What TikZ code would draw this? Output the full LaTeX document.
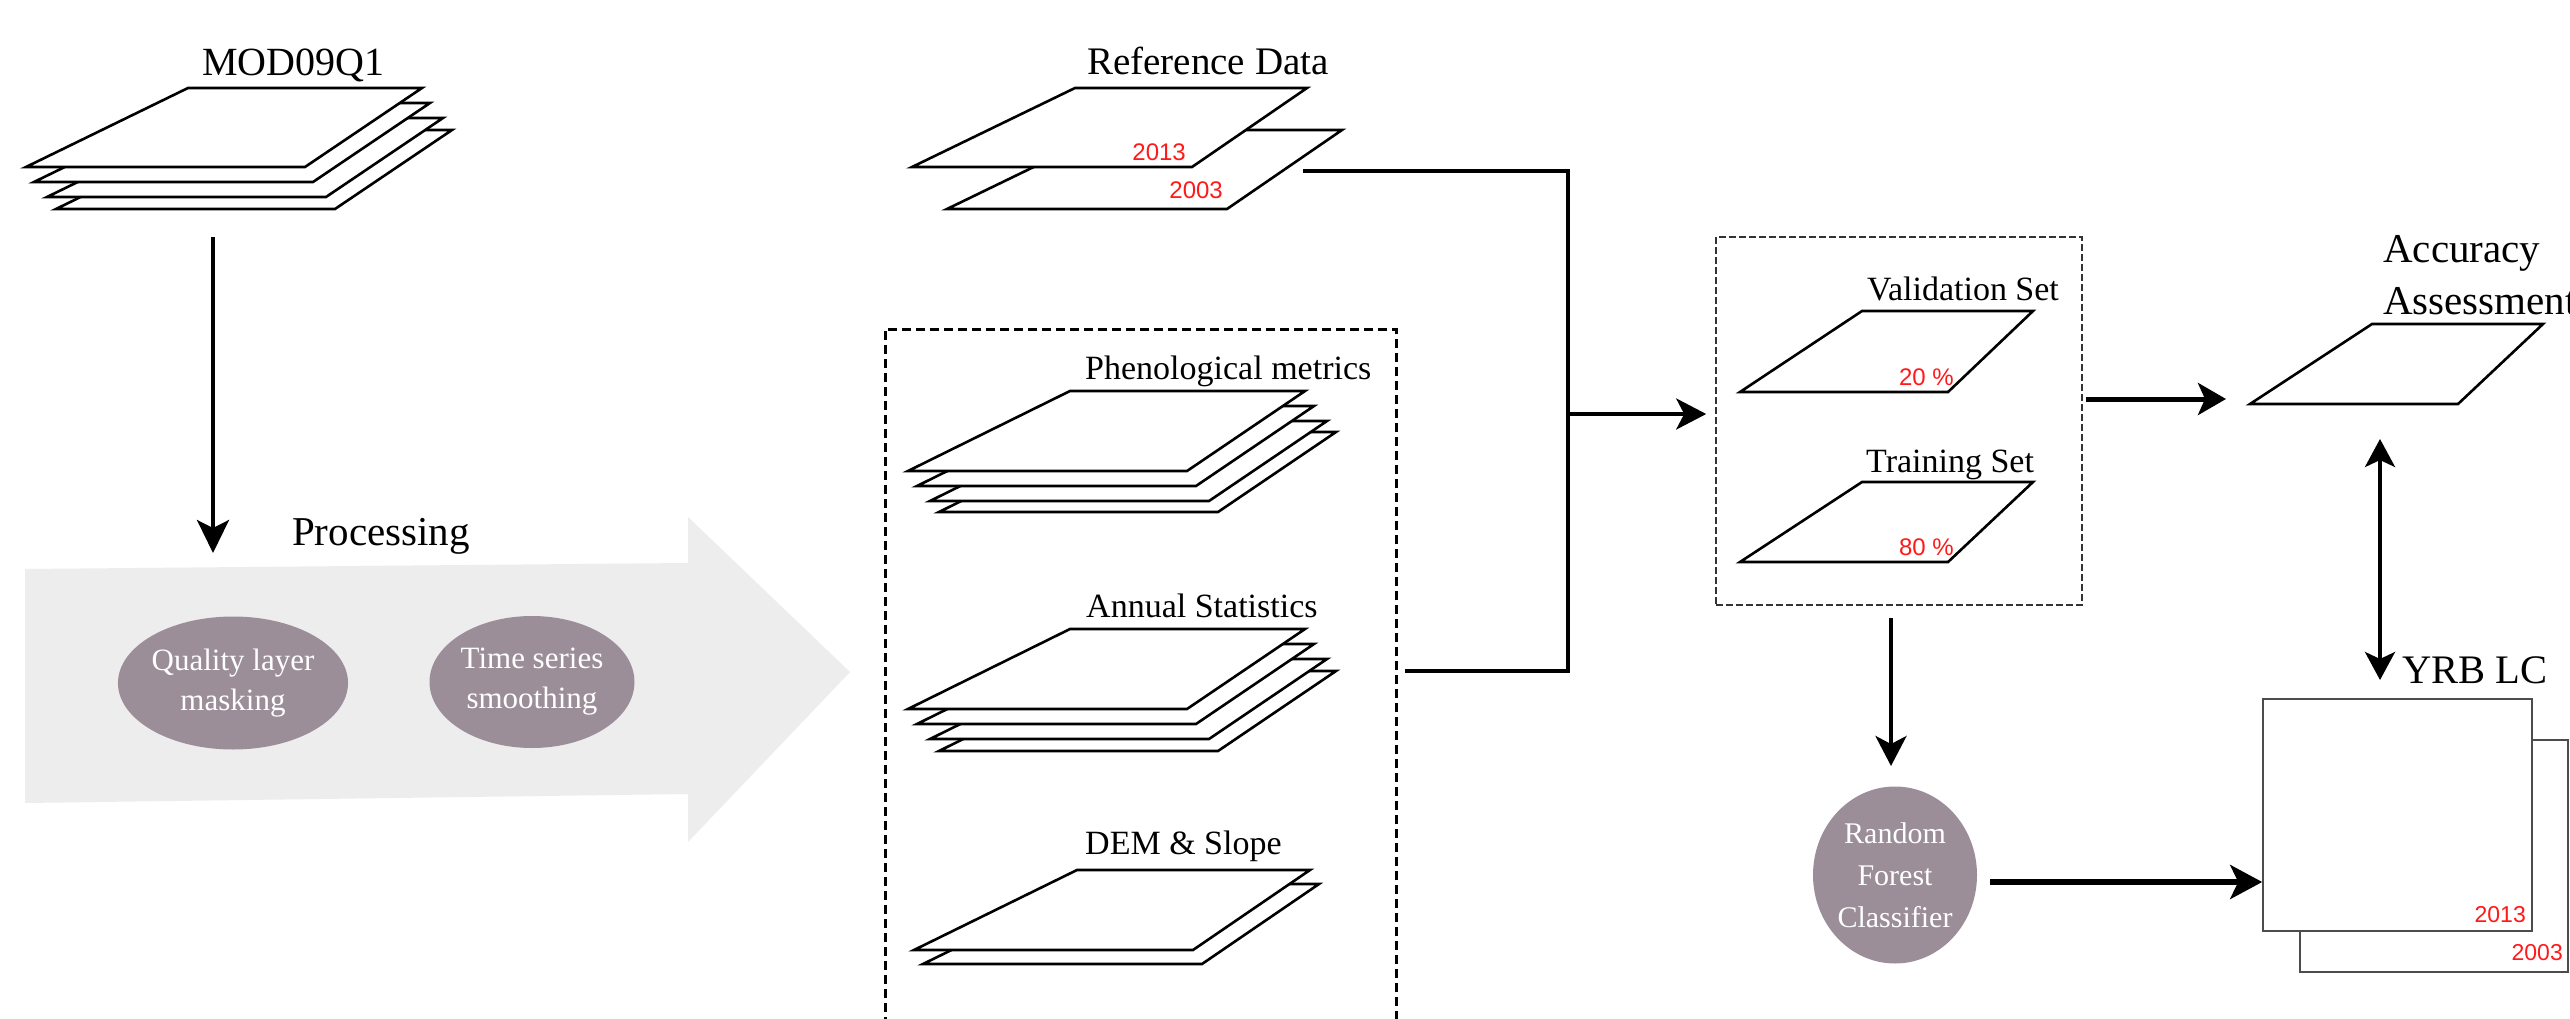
\documentclass[tikz,border=0pt]{standalone}
\usepackage{fontspec}
\setmainfont{Liberation Serif}
\newfontfamily\numfont{Liberation Sans}
\usetikzlibrary{arrows.meta,shapes.geometric}
\definecolor{bubblecol}{RGB}{155,142,153}
\definecolor{bigarrowcol}{RGB}{237,237,237}
\definecolor{yearred}{RGB}{255,25,25}
\begin{document}
\begin{tikzpicture}[x=1pt,y=-1pt,
  sheet/.style={draw=black,fill=white,line width=2.6pt,line join=miter},
  conn/.style={line width=4pt},
  tipa/.style={-{Stealth[length=30pt,width=31pt,inset=8pt]}},
  title/.style={font=\fontsize{40}{48}\selectfont,inner sep=0pt,anchor=base west},
  sublab/.style={font=\fontsize{34}{40}\selectfont,inner sep=0pt,anchor=base west},
  yearlab/.style={font=\numfont\fontsize{24}{28}\selectfont,text=yearred,inner sep=0pt,anchor=east},
  bubble/.style={ellipse,fill=bubblecol,text=white,inner sep=0pt,align=center},
  databox/.style={draw=black,line width=2.5pt,dash pattern=on 9pt off 5pt},
  setbox/.style={draw=black!80,line width=1.6pt,dash pattern=on 7pt off 3pt},
  mapbox/.style={draw=black!70,fill=white,line width=1.6pt}]
\fill[white] (0,0) rectangle (2570,1019);
\useasboundingbox (0,0) rectangle (2570,1019);

% ---------- big processing arrow ----------
\fill[bigarrowcol] (25,569) -- (688,563) -- (688,517) -- (850,672) -- (688,842) -- (688,794) -- (25,803) -- cycle;
\node[title,font=\fontsize{41}{48}\selectfont] (proc) at (292,545) {Processing};
\node[bubble,minimum width=206pt,minimum height=133pt,font=\fontsize{31}{40}\selectfont] (qlm) at (233,683) {Quality layer\\masking};
\node[bubble,minimum width=205pt,minimum height=132pt,font=\fontsize{31}{40}\selectfont] (tss) at (532,682) {Time series\\smoothing};

% ---------- MOD09Q1 stack ----------
\foreach \dx/\dy in {30/42,21/30,8/15,0/0}
  \draw[sheet,shift={(\dx,\dy)}] (26,167) -- (305,167) -- (422,88) -- (188,88) -- cycle;
\node[title] (mod) at (202,76) {MOD09Q1};
\coordinate (modout) at (213,237);
\coordinate (modin) at (213,553);
\draw[conn,line width=3.6pt,-{Stealth[length=33pt,width=32pt,inset=8pt]}] (modout) -- (modin);

% ---------- Reference data ----------
\draw[sheet,shift={(35,42)}] (912,167) -- (1192,167) -- (1307,88) -- (1075,88) -- cycle;
\draw[sheet] (912,167) -- (1192,167) -- (1307,88) -- (1075,88) -- cycle;
\node[title,font=\fontsize{39}{46}\selectfont] (refdata) at (1087,75) {Reference Data};
\node[yearlab] (ref13) at (1186,152) {2013};
\node[yearlab] (ref03) at (1223,190) {2003};

% ---------- data box ----------
\node[databox,minimum width=511pt,minimum height=740pt,anchor=north west,inner sep=0pt] (dbox) at (884,328) {};
\foreach \dx/\dy in {31/41,22/30,9/15,0/0}
  \draw[sheet,shift={(\dx,\dy)}] (908,471) -- (1187,471) -- (1305,391) -- (1070,391) -- cycle;
\node[sublab] (phen) at (1085,379) {Phenological metrics};
\foreach \dx/\dy in {31/42,22/30,9/15,0/0}
  \draw[sheet,shift={(\dx,\dy)}] (908,709) -- (1187,709) -- (1305,629) -- (1070,629) -- cycle;
\node[sublab] (ann) at (1086,617) {Annual Statistics};
\foreach \dx/\dy in {9/14,0/0}
  \draw[sheet,shift={(\dx,\dy)}] (914,950) -- (1193,950) -- (1310,870) -- (1077,870) -- cycle;
\node[sublab] (dem) at (1085,854) {DEM \& Slope};

% ---------- merging connector ----------
\coordinate (refout) at (1303,171);
\coordinate (annout) at (1405,671);
\coordinate (mcorner) at (1568,671);
\coordinate (junc) at (1566,414);
\draw[conn,line join=miter] (refout) -| (mcorner) -- (annout);

% ---------- validation / training box ----------
\node[setbox,minimum width=366pt,minimum height=368pt,inner sep=0pt] (vbox) at (1899,421) {};
\draw[sheet] (1740,392) -- (1948,392) -- (2033,311) -- (1862,311) -- cycle;
\node[sublab] (val) at (1867,300) {Validation Set};
\node[yearlab] (p20) at (1954,377) {20 \%};
\draw[sheet] (1740,562) -- (1948,562) -- (2033,482) -- (1862,482) -- cycle;
\node[sublab] (tra) at (1866,472) {Training Set};
\node[yearlab] (p80) at (1954,547) {80 \%};
\draw[conn,tipa,shorten >=9pt] (junc) -- (vbox.west |- junc);

% ---------- accuracy assessment ----------
\draw[sheet] (2250,404) -- (2458,404) -- (2543,324) -- (2372,324) -- cycle;
\node[title,font=\fontsize{41}{48}\selectfont] (acc1) at (2383,262) {Accuracy};
\node[title,font=\fontsize{41}{48}\selectfont] (acc2) at (2383,314) {Assessment};
\coordinate (accin) at (2226,399);
\draw[line width=5pt,-{Stealth[length=28pt,width=32pt,inset=7pt]}] ([xshift=3pt]vbox.east |- accin) -- (accin);

% ---------- random forest ----------
\node[bubble,minimum width=164pt,minimum height=177pt,font=\fontsize{30}{42}\selectfont] (rf) at (1895,875) {Random\\Forest\\Classifier};
\coordinate (vout) at (1891,618);
\coordinate (rfin) at (1891,766);
\draw[conn,tipa] (vout) -- (rfin);

% ---------- YRB LC ----------
\node[mapbox,minimum width=268pt,minimum height=232pt,inner sep=0pt] (yrb03) at (2434,856) {};
\node[mapbox,minimum width=269pt,minimum height=232pt,inner sep=0pt] (yrb13) at (2397.5,815) {};
\node[yearlab,font=\numfont\fontsize{23}{28}\selectfont] (y13) at (2526,915) {2013};
\node[yearlab,font=\numfont\fontsize{23}{28}\selectfont] (y03) at (2563,953) {2003};
\node[title,font=\fontsize{40.5}{48}\selectfont] (yrb) at (2402,683) {YRB LC};
\coordinate (rfout) at (1990,882);
\draw[line width=5.5pt,-{Stealth[length=32pt,width=34pt,inset=8pt]}] (rfout) -- (yrb13.west |- rfout);
\coordinate (accbot) at (2380,439);
\coordinate (yrbtop) at (2380,680);
\draw[conn,{Stealth[length=28pt,width=30pt,inset=7pt]}-{Stealth[length=28pt,width=30pt,inset=7pt]}] (accbot) -- (yrbtop);
\end{tikzpicture}
\end{document}
